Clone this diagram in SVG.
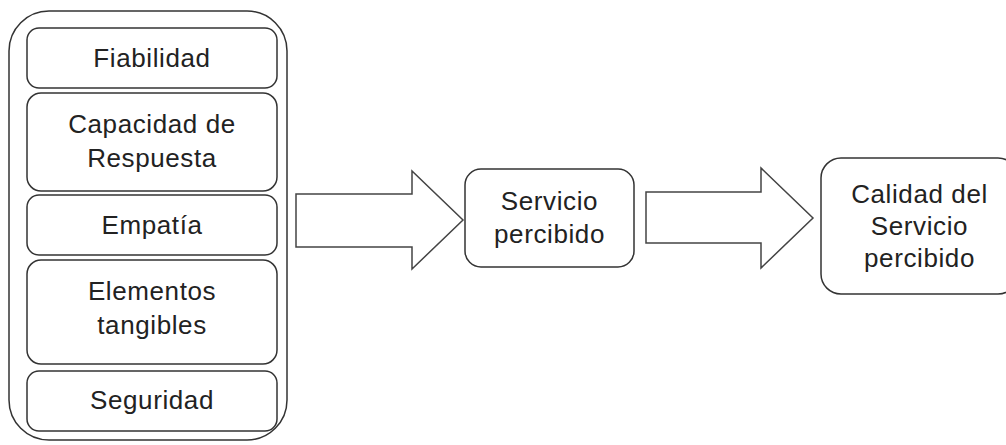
<svg xmlns="http://www.w3.org/2000/svg" width="1006" height="445" viewBox="0 0 1006 445">
  <style>
    .box { fill: #ffffff; stroke: #333333; stroke-width: 1.5; }
    .arrow { fill: #ffffff; stroke: #444444; stroke-width: 1.5; stroke-linejoin: miter; }
    .label { font-family: "Liberation Sans", Arial, sans-serif; font-size: 26px; fill: #222222; text-anchor: middle; letter-spacing: 0.6px; }
  </style>
  <rect width="1006" height="445" fill="#ffffff"/>

  <!-- container with the five dimensions -->
  <g id="dimensiones">
    <rect class="box" x="9" y="11" width="278" height="429" rx="40" ry="40"/>
  </g>
  <g id="fiabilidad">
    <rect class="box" x="27" y="28" width="250" height="60" rx="12" ry="12"/>
    <text class="label" x="152" y="67">Fiabilidad</text>
  </g>
  <g id="capacidad">
    <rect class="box" x="27" y="93" width="250" height="98" rx="14" ry="14"/>
    <text class="label" x="152" y="133">Capacidad de</text>
    <text class="label" x="152" y="167">Respuesta</text>
  </g>
  <g id="empatia">
    <rect class="box" x="27" y="195" width="250" height="60" rx="12" ry="12"/>
    <text class="label" x="152" y="234">Empatía</text>
  </g>
  <g id="elementos">
    <rect class="box" x="27" y="260" width="250" height="104" rx="14" ry="14"/>
    <text class="label" x="152" y="300">Elementos</text>
    <text class="label" x="152" y="334">tangibles</text>
  </g>
  <g id="seguridad">
    <rect class="box" x="27" y="371" width="250" height="60" rx="12" ry="12"/>
    <text class="label" x="152" y="409">Seguridad</text>
  </g>

  <g id="servicio">
    <rect class="box" x="465" y="169" width="169" height="98" rx="16" ry="16"/>
    <text class="label" x="549.5" y="210">Servicio</text>
    <text class="label" x="549.5" y="243">percibido</text>
  </g>

  <g id="calidad">
    <rect class="box" x="821" y="158" width="197" height="136" rx="20" ry="20"/>
    <text class="label" x="919.5" y="203">Calidad del</text>
    <text class="label" x="919.5" y="235">Servicio</text>
    <text class="label" x="919.5" y="267">percibido</text>
  </g>

  <!-- block arrows -->
  <g id="connectors">
    <polygon class="arrow" points="296,194 412,194 412,171 463,220 412,269 412,247 296,247"/>
    <polygon class="arrow" points="646,192 761,192 761,168 813,218 761,268 761,243 646,243"/>
  </g>
</svg>
